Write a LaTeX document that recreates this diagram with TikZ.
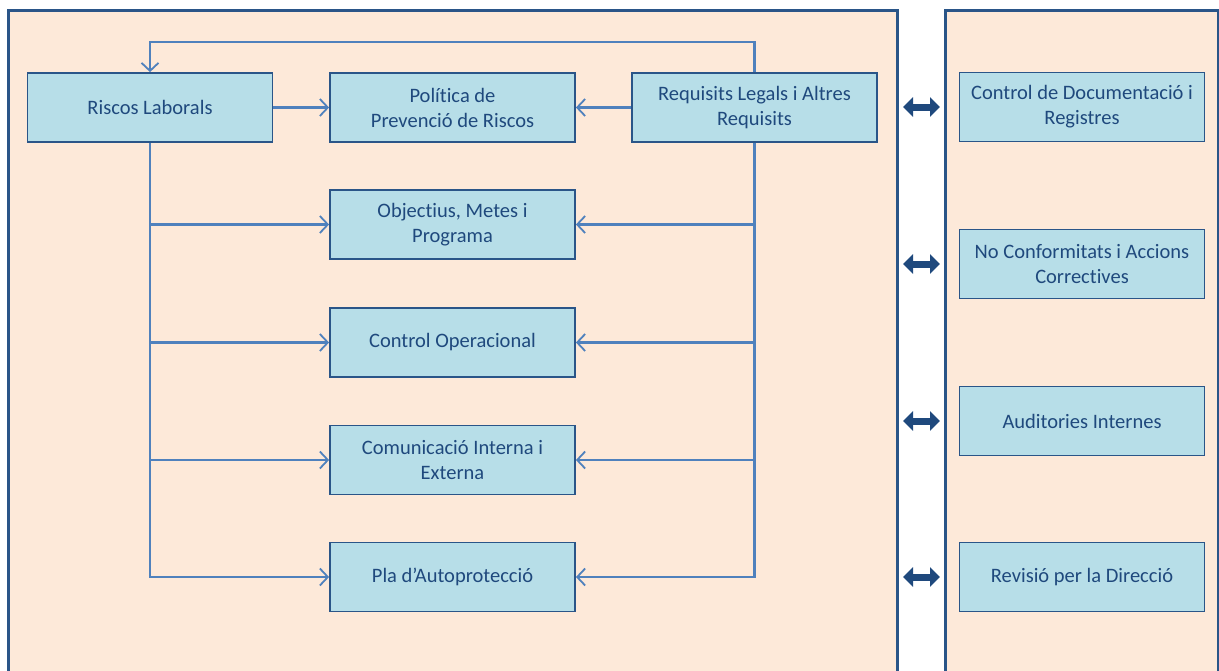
\documentclass[tikz,border=0pt]{standalone}
\usepackage{fontspec}
\setmainfont{Carlito}[Ligatures=NoCommon]
\usetikzlibrary{arrows.meta}
\definecolor{peach}{HTML}{FDE9D9}
\definecolor{boxfill}{HTML}{B7DEE8}
\definecolor{boxline}{HTML}{2A5588}
\definecolor{txt}{HTML}{1F497D}
\definecolor{conncol}{HTML}{4F81BD}
\definecolor{panelcol}{HTML}{2A5588}
\definecolor{dbl}{HTML}{1F497D}
\tikzset{
  stepbox/.style={draw=boxline, fill=boxfill, line width=1.8pt, minimum width=245pt,
    minimum height=69pt, inner sep=2pt, text=txt, align=center,
    font=\fontsize{20.5}{25}\selectfont},
  conn/.style={draw=conncol, line width=2.2pt, -{Straight Barb[length=8pt,width=17pt,line width=1.8pt]}},
  panelline/.style={draw=panelcol, line width=3pt},
  dblarrow/.style={draw=dbl, line width=7pt, {Triangle[length=10pt,width=19pt]}-{Triangle[length=10pt,width=19pt]}}
}
\begin{document}
\begin{tikzpicture}[x=1pt,y=-1pt]
\useasboundingbox (0,0) rectangle (1219,670);
% panels
\fill[peach] (8,10) rectangle (897,672);
\draw[panelline] (8,674) -- (8,10) -- (897,10) -- (897,674);
\fill[peach] (945,10) rectangle (1218,672);
\draw[panelline] (945,674) -- (945,10) -- (1218,10) -- (1218,674);
% left boxes
\node[stepbox] (riscos) at (150,107.5) {Riscos Laborals};
\node[stepbox] (pol) at (452.5,107.5) {Política de\\Prevenció de Riscos};
\node[stepbox] (req) at (754.5,107.5) {Requisits Legals i Altres\\Requisits};
\node[stepbox] (obj) at (452.5,224.5) {Objectius, Metes i\\Programa};
\node[stepbox] (ctrl) at (452.5,342.5) {Control Operacional};
\node[stepbox] (com) at (452.5,460) {Comunicació Interna i\\Externa};
\node[stepbox] (pla) at (452.5,577) {Pla d’Autoprotecció};
% right boxes
\node[stepbox] (doc) at (1082,107) {Control de Documentació i\\Registres};
\node[stepbox] (nc) at (1082,264) {No Conformitats i Accions\\Correctives};
\node[stepbox] (aud) at (1082,421) {Auditories Internes};
\node[stepbox] (rev) at (1082,577) {Revisió per la Direcció};
% connectors
\draw[conn] (riscos.east) -- (pol.west);
\draw[conn] (req.west) -- (pol.east);
\draw[conn] (req.north) -- ++(0,-30) -| (riscos.north);
\foreach \t in {obj,ctrl,com,pla}{
  \draw[conn] (riscos.south) |- (\t.west);
  \draw[conn] (req.south) |- (\t.east);
}
% double arrows between panels
\foreach \y/\n in {107/a,264/b,421/c,577/d}{
  \coordinate (l\n) at (903,\y);
  \coordinate (r\n) at (940,\y);
  \draw[dblarrow] (l\n) -- (r\n);
}
\end{tikzpicture}
\end{document}
